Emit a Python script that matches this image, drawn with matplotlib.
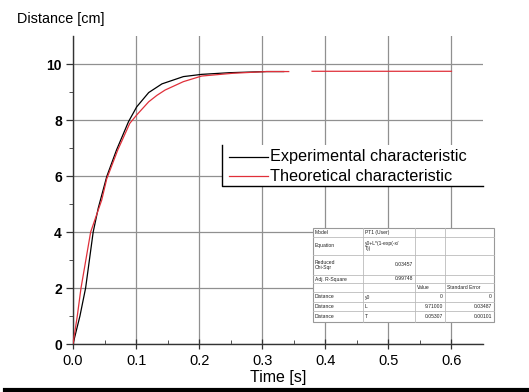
import numpy as np
import matplotlib
matplotlib.use("Agg")
import matplotlib.pyplot as plt
from matplotlib.lines import Line2D
from matplotlib.patches import Rectangle

plt.rcParams["font.family"] = ["Liberation Sans", "DejaVu Sans"]

# experimental curve
t_exp = [0, 0.011, 0.020, 0.032, 0.040, 0.0535, 0.069, 0.088, 0.101, 0.120, 0.141, 0.175, 0.204, 0.249, 0.307, 0.334]
y_exp = [0, 1.0, 2.0, 4.0, 4.85, 5.98, 6.93, 7.94, 8.47, 8.98, 9.29, 9.55, 9.63, 9.69, 9.73, 9.73]
# theoretical curve, with the gap around 0.35 s
t_th = [0, 0.0068, 0.0127, 0.028, 0.0455, 0.0535, 0.071, 0.090, 0.101, 0.120, 0.133, 0.146, 0.175, 0.204, 0.254, 0.307, 0.342, 0.36, 0.379, 0.6]
y_th = [0, 1.0, 2.0, 4.0, 5.14, 5.9, 6.93, 7.88, 8.18, 8.65, 8.88, 9.07, 9.37, 9.57, 9.67, 9.73, 9.73, np.nan, 9.74, 9.74]

x_ticks = [0.0, 0.1, 0.2, 0.3, 0.4, 0.5, 0.6]
y_ticks = [0, 2, 4, 6, 8, 10]
legend_labels = ["Experimental characteristic", "Theoretical characteristic"]

# fit table
tbl_rows = [
    ["Model", "PT1 (User)", "", ""],
    ["Equation", "y0+L*(1-exp(-x/\nT))", "", ""],
    ["Reduced\nChi-Sqr", "0.03457", "", ""],
    ["Adj. R-Square", "0.99748", "", ""],
    ["", "", "Value", "Standard Error"],
    ["Distance", "y0", "0", "0"],
    ["Distance", "L", "9.71000", "0.03487"],
    ["Distance", "T", "0.05307", "0.00101"],
]

W, H = 529, 392
fig = plt.figure(figsize=(W / 100, H / 100), dpi=100)
ax = fig.add_axes([73 / W, 1 - 344 / H, (483 - 73) / W, (344 - 36) / H])

ax.plot(t_exp, y_exp, color="black", lw=0.9, zorder=3)
ax.plot(t_th, y_th, color="#e0303a", lw=0.9, zorder=3)

ax.set_xlim(0, 0.65)
ax.set_ylim(0, 11)
ax.set_xticks(x_ticks)
ax.set_xticklabels([f"{v:.1f}" for v in x_ticks])
ax.set_yticks(y_ticks)
ax.set_xticks(np.arange(0.05, 0.65, 0.1), minor=True)
ax.set_yticks([1, 3, 5, 7, 9], minor=True)
ax.tick_params(axis="x", labelsize=10.5)
ax.tick_params(axis="y", labelsize=10)
for lb in ax.get_yticklabels():
    lb.set_fontweight("bold")
ax.tick_params(axis="both", color="#333333", width=0.9)
ax.tick_params(axis="y", which="major", direction="out", length=5, pad=3)
ax.tick_params(axis="y", which="minor", direction="out", length=3, color="#333333")
ax.tick_params(axis="x", which="major", direction="inout", length=7, pad=4)
ax.tick_params(axis="x", which="minor", direction="in", length=3, color="#333333")
ax.grid(True, which="major", color="#909090", lw=0.9)
ax.set_axisbelow(True)
for s in ["top", "right"]:
    ax.spines[s].set_visible(False)
for s in ["left", "bottom"]:
    ax.spines[s].set_color("#333333")
    ax.spines[s].set_linewidth(1.0)

fig.text(17 / W, 1 - 19 / H, "Distance [cm]", fontsize=10.4, va="center", ha="left")
ax.set_xlabel("Time [s]", fontsize=11.5, labelpad=1)

# legend box: white, only left and bottom edges drawn
def px(x, y):
    return x / W, 1 - y / H

lx0, ly0, lx1, ly1 = 222, 145, 483, 186
x0, y1 = px(lx0, ly1)
x1, y0 = px(lx1, ly0)
fig.add_artist(Rectangle((x0, y1), x1 - x0, y0 - y1, facecolor="white", edgecolor="none", transform=fig.transFigure, zorder=4))
fig.add_artist(Line2D([x0, x0, x1], [y0, y1, y1], color="black", lw=1.0, transform=fig.transFigure, zorder=5))
for i, (lab, col) in enumerate(zip(legend_labels, ["black", "#e0303a"])):
    yy = 1 - (157 + i * 19) / H
    fig.add_artist(Line2D([229 / W, 268 / W], [yy, yy], color=col, lw=0.9, transform=fig.transFigure, zorder=5))
    fig.text(270 / W, yy, lab, fontsize=11.7, va="center", ha="left", zorder=6)

# fit table
col_x = [313, 363, 415, 445, 494]
row_y = [228, 237, 255, 275, 283, 292, 302, 311, 322]
fig.add_artist(Rectangle(px(col_x[0], row_y[-1]), (col_x[-1] - col_x[0]) / W, (row_y[-1] - row_y[0]) / H,
                         facecolor="white", edgecolor="#999999", lw=0.8, transform=fig.transFigure, zorder=4))
for cx in col_x[1:-1]:
    fig.add_artist(Line2D([cx / W, cx / W], [1 - row_y[0] / H, 1 - row_y[-1] / H], color="#bbbbbb", lw=0.6,
                          transform=fig.transFigure, zorder=5))
for ry in row_y[1:-1]:
    fig.add_artist(Line2D([col_x[0] / W, col_x[-1] / W], [1 - ry / H, 1 - ry / H], color="#bbbbbb", lw=0.6,
                          transform=fig.transFigure, zorder=5))
for r, row in enumerate(tbl_rows):
    yc = 1 - (row_y[r] + row_y[r + 1]) / 2 / H
    for c, txt in enumerate(row):
        if not txt:
            continue
        right = (r in (2, 3) and c == 1) or (r >= 5 and c >= 2)
        xx = (col_x[c + 1] - 2) / W if right else (col_x[c] + 2) / W
        fig.text(xx, yc, txt, fontsize=3.6, va="center", ha="right" if right else "left",
                 color="#222222", zorder=6, linespacing=1.0)

# thick rule at the bottom of the picture
fig.add_artist(Line2D([0.01, 1.0], [1 - 389.5 / H, 1 - 389.5 / H], color="black", lw=3, transform=fig.transFigure))

fig.savefig("out.png", dpi=100)
